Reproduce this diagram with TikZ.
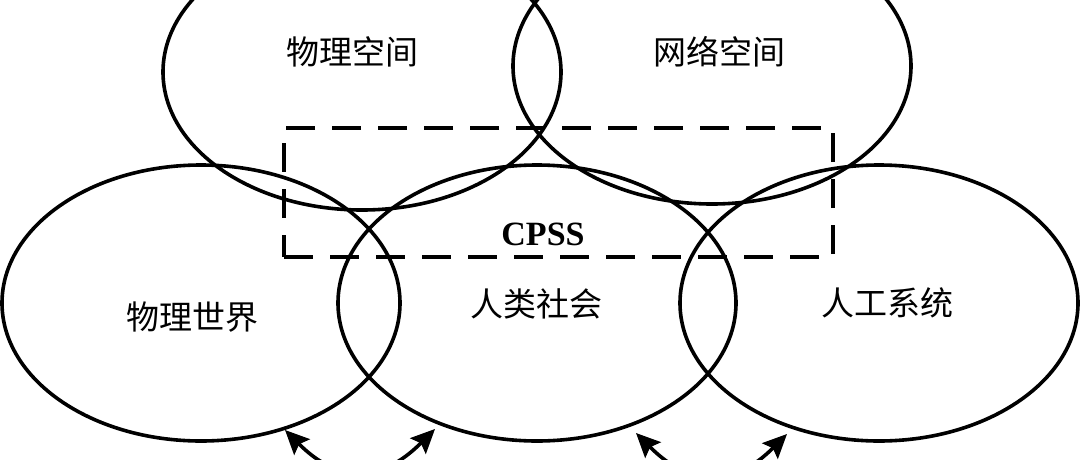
\documentclass[tikz,border=0pt]{standalone}
\usepackage{fontspec}
\newfontfamily\cjk{Noto Sans CJK SC}
\setmainfont{Liberation Serif}
\usetikzlibrary{shapes.geometric,arrows.meta}
\begin{document}
\begin{tikzpicture}[x=1pt,y=1pt,
  spherebox/.style={ellipse,draw=black,line width=3.6pt,minimum width=398pt,minimum height=276pt,inner sep=0pt},
  spherelab/.style={font=\cjk\fontsize{33}{33}\selectfont,inner sep=0pt},
  cpssframe/.style={draw=black,line width=3.4pt,dash pattern=on 29pt off 17pt,inner sep=0pt},
  arrowlink/.style={line width=3.6pt,{Stealth[length=24pt,width=22pt,inset=4pt]}-{Stealth[length=24pt,width=22pt,inset=4pt]},out=-45,in=-135,looseness=1.3}]
\useasboundingbox (0,0) rectangle (1080,-459);
\clip (0,0) rectangle (1080,-459);
\fill[white] (0,0) rectangle (1080,-459);
% ellipses
\node[spherebox] (tl) at (362,-72) {};
\node[spherebox] (tr) at (712,-66) {};
\node[spherebox] (bl) at (201,-303) {};
\node[spherebox] (bm) at (537,-303) {};
\node[spherebox] (br) at (879,-303) {};
% dashed CPSS frame
\node[cpssframe,minimum width=549pt,minimum height=129pt] (cpssbox) at (558.5,-192.5) {};
\node[font=\bfseries\fontsize{34}{34}\selectfont,inner sep=0pt] (cpss) at (543,-234) {CPSS};
% labels
\node[spherelab] (ltl) at (352,-52) {物理空间};
\node[spherelab] (ltr) at (719,-52) {网络空间};
\node[spherelab] (lbl) at (192,-317) {物理世界};
\node[spherelab] (lbm) at (536,-304) {人类社会};
\node[spherelab] (lbr) at (887,-303) {人工系统};
% arrows
\coordinate (a1) at (285,-430);
\coordinate (a2) at (435,-429);
\coordinate (b1) at (636,-433);
\coordinate (b2) at (787,-434);
\draw[arrowlink] (a1) to (a2);
\draw[arrowlink] (b1) to (b2);
\end{tikzpicture}
\end{document}
